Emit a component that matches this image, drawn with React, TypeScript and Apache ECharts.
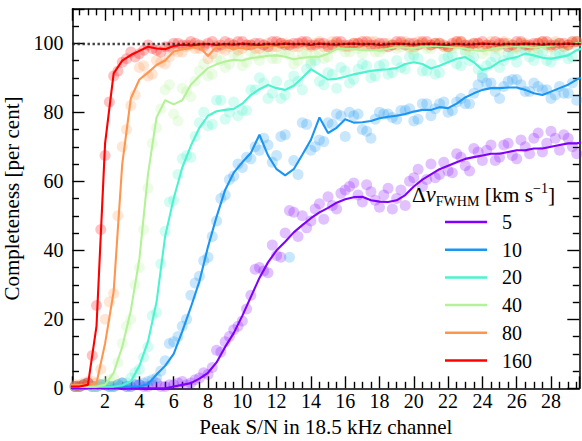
import React, { useEffect, useRef } from 'react';
import * as echarts from 'echarts';

const FONT = "'Liberation Serif', 'DejaVu Serif', serif";

// x grid of the smoothed curves and of the first set of points
const X_LINE = [0,0.5,1,1.5,2,2.5,3,3.5,4,4.5,5,5.5,6,6.5,7,7.5,8,8.5,9,9.5,10,10.5,11,11.5,12,12.5,13,13.5,14,14.5,15,15.5,16,16.5,17,17.5,18,18.5,19,19.5,20,20.5,21,21.5,22,22.5,23,23.5,24,24.5,25,25.5,26,26.5,27,27.5,28,28.5,29,29.5,30];
// x grid of the second set of points
const X_MID = [0.25,0.75,1.25,1.75,2.25,2.75,3.25,3.75,4.25,4.75,5.25,5.75,6.25,6.75,7.25,7.75,8.25,8.75,9.25,9.75,10.25,10.75,11.25,11.75,12.25,12.75,13.25,13.75,14.25,14.75,15.25,15.75,16.25,16.75,17.25,17.75,18.25,18.75,19.25,19.75,20.25,20.75,21.25,21.75,22.25,22.75,23.25,23.75,24.25,24.75,25.25,25.75,26.25,26.75,27.25,27.75,28.25,28.75,29.25,29.75];

const NAMES = ['5', '10', '20', '40', '80', '160'];
const COLORS = ['#8000ff', '#1a96f2', '#4df2ce', '#b3f296', '#ff964f', '#ff0000'];

// dv = 5
const L5 = [0,0,0,0,0,0,0,0,0,0,0,0,0.5,1,1.5,2.8,4.5,7.5,12,16,21,26.5,32,36.5,40,42.5,45.2,47.3,49.3,51,52.3,53.8,54.8,55.4,55.5,54.5,54.1,54,54.5,56,58.5,60.5,62,63.5,64.5,65.5,66.5,67,67.5,68,68,68.5,69,69,69.5,69.5,70,70.5,71,71,71.5];
const A5 = [1,0.5,1.5,0.5,1,0.5,1.5,0.5,1,0.5,1.5,0.5,1,2,1.5,3,4,11,13.5,17,19.5,27,35,33.5,38.5,45,51,50,48.5,53.5,55.5,52,57.5,59.5,54,57,52.5,58,55,53,61,58.5,65,62,63,68,64.5,69.5,66,70.5,67,71,66.5,70,72.5,68.5,74.5,69,72.5,68,73];
const B5 = [0.5,1,0.5,1,0.5,1,0.5,1,0.5,1,0.5,1,1.5,1,2.5,4.5,6,10.5,15,18,23,34.5,34,41.5,38,51.5,44,46.5,52,49,53,56.5,58.5,56,59,54.5,56,52,57.5,60,63.5,60.5,61,65.5,62.5,67,63,68.5,69,66,70.5,67.5,72,68,74,71,72.5,73.5,70,74];

// dv = 10
const L10 = [0.5,0.5,0.5,0.5,0.5,0.5,0.5,0.5,0.6,1.2,4,6.5,10,16.5,23.5,31,41,49.7,57.5,62.5,65.5,68.2,73.5,67.5,63.5,61.7,63.5,67.7,72,78.5,74,75.5,78,77,77.1,77.5,78.3,78.7,79,79.5,80.2,80.7,80.7,81.5,81.2,82.5,84.3,85.5,86.5,87,87,87.2,87.2,86.5,85.5,85,86,87,88,89.5,90.5];
const A10 = [1,0.5,1.5,0.5,1,0.5,1.5,0.5,1,2,3,8,13.5,18,27,32.5,38,48.5,56,61.5,64,66.5,69,70.5,67.5,73.5,66,77,69,72,77,79.5,73,79,75,72.5,80,79.5,78,80.5,77.5,82.5,79,82.5,80,83,82.5,85.5,90,88.5,84,89,89.5,86,88.5,86.5,84,87.5,85.5,83.5,92];
const B10 = [0.5,1,0.5,1,0.5,1,0.5,1,1.5,2.5,5,13,15,20,30.5,37,44,55,60.5,65,67,70,72.5,65.5,73,38,62,76.5,70,71.5,76.5,79,80,79.5,74.5,78,79.5,78.5,80.5,81,78,82.5,81,83,80.5,84,82.5,88,88.5,86,87.5,89.5,88,86,87.5,86.5,85,85.5,88.5,90.5];

// dv = 20
const L20 = [0.5,0.5,0.5,0.5,0.5,0.5,0.8,2,6.5,13.5,25,44,55,64,70.3,75.5,79,80.3,80.7,81,82.5,85,86.7,87.9,87,86.5,87.7,90,92.5,91,89.5,89.7,90.3,91,91.5,92,92.3,92.5,92.8,94,94.5,94,92.7,93.5,94.5,95.5,96,94.5,92.3,93,94.7,95.5,96,97,96.5,95.8,95.5,96,96.5,98,98.8];
const A20 = [1,0.5,1,0.5,1,0.5,1.5,3,5.5,12,22,45.5,54.5,66.5,67,77,76,83.5,78,83,80.5,86.5,90,84,89,85,90.5,86.5,94,89,91.5,87,92,89.5,94,90,93.5,91,95,92.5,96.5,92,94,91.5,96,94,97.5,96,91,94.5,93,97,94.5,98,95,97.5,94.5,97,95.5,99,98];
const B20 = [0.5,1,0.5,1,0.5,1,1.5,4.5,9,21,36,54,62,67.5,73,80,76.5,83.5,80,79,80.5,86.5,88.5,85.5,84,88,89,92.5,95,88,91,93,88.5,92.5,93.5,90.5,94,91.5,93,96,95.5,92,91,95.5,96.5,93.5,95,92.5,93.5,96,95,96.5,98,96,97,95,96.5,97.5,96,99.5];

// dv = 40
const L40 = [0.5,0.5,0.5,0.5,1,4.5,12,22.5,37.5,62,78.5,83.5,82.3,83.5,88,90.5,92.8,93.9,94.7,95.2,95,95.7,96,96.4,96.5,96.1,95.4,95.8,96,96.1,97,98.3,98.4,98.3,98,98,98,98.4,99,98.8,98.6,99,99.2,99.3,99,98.8,98.5,98,97.8,98.3,98.7,99,99.2,99,98.8,99,99.3,99.5,99.8,100,100];
const A40 = [1,0.5,1,0.5,1.5,3,13,20,35,58,75.5,86.5,79.5,87,84.5,92,90.5,95.5,93,97,93.5,97.5,95,98,95.5,97.5,94,97,95,97.5,96,99.5,97.5,99.5,97,99,97.5,99.5,98.5,100,98,100,98.5,100,98.5,99.5,98,99.5,97,99,98,100,98.5,99.5,98,100,98.5,100,99.5,100.5,99.5];
const B40 = [0.5,1,0.5,1,2.5,7.5,18,30,46,71,81,88,77.5,86,89,94,91,95,94,96.5,94.5,96.5,97,95.5,98,96.5,95,97.5,96.5,95.5,98.5,99,97.5,98.5,99,97.5,98.5,99.5,99,98.5,99.5,98.5,100,99,98.5,100,97.5,99,98,98.5,99.5,98.5,100,99,98.5,99.5,100,99,100.5,100];

// dv = 80
const L80 = [1,1,1,1.5,13,28,65,84,89.5,91.5,93.7,95,97.6,98.3,98.7,99,96.3,99,98.8,98.7,98.6,98.8,99,99.2,99.3,99.3,99.5,99.6,99.4,99.7,99.5,99.6,99.4,99.7,99.6,99.5,99.7,99.6,99.4,99.6,99.7,99.5,99.6,99.7,99.5,99.3,99.5,99.6,99.7,99.5,99.6,99.4,99.6,99.7,99.5,99.6,99.7,99.6,99.5,99.6,99.7];
const A80 = [1.5,1,2,1.5,20,27.5,70,82,93,90.5,95,94,98,97.5,99.5,98.5,95.5,99.5,98,99.5,98.5,99.5,98.5,100,99,100,99,100,99,100.5,99.5,100,99,100,99.5,100.5,99,100,99.5,100.5,99,100,99.5,100,99,100.5,99.5,100,99,100.5,99.5,100,99,100,99.5,100.5,99,100,99.5,100.5,99.5];
const B80 = [1,1.5,2,5.5,25,50,75,85,93.5,91,94.5,96,97.5,99,98.5,99.5,97,98.5,99,98,99.5,98.5,99.5,99,100,99.5,99,99.5,100,99,100.5,99.5,99,100,99.5,100.5,99,99.5,100,99,100.5,99.5,100,99,99.5,100.5,99,100,99.5,99,100.5,99.5,100,99,100,99.5,100.5,99,100,99.5];

// dv = 160
const L160 = [0.5,0.5,1,18,71,91.3,95,96.6,97.8,99,98.5,98.3,99.2,99.6,99.4,99.7,99.8,99.5,99.8,99.6,99.9,99.7,99.5,99.8,99.6,99.9,99.7,99.8,99.5,99.9,99.7,99.6,99.8,99.9,99.7,99.8,99.5,99.7,99.9,99.8,99.6,99.8,99.9,99.7,99.5,99.8,99.6,99.7,99.9,99.8,99.6,99.8,99.7,99.9,99.8,99.6,99.8,99.7,99.9,99.8,99.8];
const A160 = [1,0.5,1.5,24,67.5,90.5,94.5,97.5,97,99.5,98,99,100,99.5,100.5,99.5,100,99,100.5,99.5,100.5,99.5,100,99,100.5,99.5,100,100.5,99.5,100,99,100.5,99.5,100,100.5,99.5,100,99,100.5,99.5,100,100.5,99.5,100,99,100.5,99.5,100,100.5,99.5,100,99,100.5,99.5,100,100.5,99.5,100,99.5,100.5,100];
const B160 = [0.5,1,9.5,46,83,92,95.5,96,98,98.5,97.5,99,100,99.5,100,99,100.5,99.5,100,100.5,99.5,100,99.5,100.5,100,99.5,100,100.5,99.5,100,99.5,100.5,99.5,100,100.5,99.5,100,99.5,100.5,100,99.5,100.5,100,99.5,100,100.5,99.5,100,99.5,100.5,100,99.5,100.5,99.5,100,100.5,99.5,100,100.5,99.5];

const LINES = [L5, L10, L20, L40, L80, L160];
const PTS_A = [A5, A10, A20, A40, A80, A160];
const PTS_B = [B5, B10, B20, B40, B80, B160];

const X_MIN = 0.1;
const X_MAX = 29.65;
const Y_MIN = 0;
const Y_MAX = 110;

export default function App() {
  const ref = useRef<HTMLDivElement>(null);

  useEffect(() => {
    if (!ref.current) return;
    const chart = echarts.init(ref.current, null, { renderer: 'svg' });

    const tickLine = { color: '#000', width: 1.4 };
    const xCommon = {
      type: 'value',
      min: X_MIN,
      max: X_MAX,
      splitNumber: 15,
      minInterval: 2,
      maxInterval: 2,
      axisLine: { show: true, onZero: false, lineStyle: { color: '#000', width: 1.5 } },
      axisTick: { show: true, inside: true, length: 12, lineStyle: tickLine },
      minorTick: { show: true, splitNumber: 4, length: 6.5, lineStyle: tickLine },
      splitLine: { show: false },
      minorSplitLine: { show: false },
    };
    const yCommon = {
      type: 'value',
      min: Y_MIN,
      max: Y_MAX,
      interval: 20,
      axisLine: { show: true, onZero: false, lineStyle: { color: '#000', width: 1.5 } },
      axisTick: { show: true, inside: true, length: 12, lineStyle: tickLine },
      minorTick: { show: true, splitNumber: 4, length: 6.5, lineStyle: tickLine },
      splitLine: { show: false },
      minorSplitLine: { show: false },
    };

    const series: any[] = [];
    NAMES.forEach((name, k) => {
      const pts: number[][] = [];
      X_LINE.forEach((x, i) => pts.push([x, PTS_A[k][i]]));
      X_MID.forEach((x, i) => pts.push([x, PTS_B[k][i]]));
      const s: any = {
        name: name + ' pts',
        type: 'scatter',
        data: pts,
        symbol: 'circle',
        symbolSize: 11,
        itemStyle: { color: COLORS[k], opacity: 0.24 },
        z: 2,
        silent: true,
      };
      if (k === 0) {
        s.markLine = {
          silent: true,
          symbol: 'none',
          label: { show: false },
          lineStyle: { color: '#222', width: 2.4, type: [2.4, 2.6], opacity: 0.85 },
          data: [{ yAxis: 100 }],
        };
      }
      series.push(s);
    });
    NAMES.forEach((name, k) => {
      series.push({
        name,
        type: 'line',
        data: X_LINE.map((x, i) => [x, LINES[k][i]]),
        showSymbol: false,
        symbol: 'none',
        lineStyle: { color: COLORS[k], width: 2.1 },
        itemStyle: { color: COLORS[k] },
        z: 3,
        silent: true,
      });
    });

    const base = { fontFamily: FONT, color: '#000', fontWeight: 'normal' };

    const option: any = {
      animation: false,
      backgroundColor: '#fff',
      grid: { left: 72.5, right: 2.7, top: 8.8, bottom: 52.7, containLabel: false, outerBoundsMode: 'none' },
      title: {
        text: '{a|Δ}{b|v}{c|FWHM}{a| [km s}{d|−1}{a|]}',
        left: 412,
        top: 181,
        padding: 0,
        textStyle: {
          fontWeight: 'normal',
          rich: {
            a: { ...base, fontSize: 21.5, lineHeight: 27 },
            b: { ...base, fontSize: 22.5, fontStyle: 'italic', lineHeight: 27 },
            c: { ...base, fontSize: 14, lineHeight: 14, verticalAlign: 'bottom' },
            d: { ...base, fontSize: 14, lineHeight: 14, verticalAlign: 'top' },
          },
        },
      },
      legend: {
        data: NAMES,
        orient: 'vertical',
        left: 445,
        top: 212,
        itemWidth: 42,
        itemHeight: 2.5,
        itemGap: 7.7,
        icon: 'rect',
        padding: 0,
        selectedMode: false,
        formatter: (n: string) => '\u00a0\u00a0' + n,
        textStyle: { ...base, fontSize: 20 },
      },
      xAxis: [
        {
          ...xCommon,
          position: 'bottom',
          name: 'Peak S/N in 18.5 kHz channel',
          nameLocation: 'middle',
          nameGap: 27,
          nameTextStyle: { ...base, fontSize: 21 },
          axisLabel: { show: true, showMinLabel: false, showMaxLabel: false, margin: 3, ...base, fontSize: 20 },
        },
        {
          ...xCommon,
          position: 'top',
          axisLabel: { show: false },
        },
      ],
      yAxis: [
        {
          ...yCommon,
          position: 'left',
          name: 'Completeness [per cent]',
          nameLocation: 'middle',
          nameRotate: 90,
          nameGap: 43,
          nameTextStyle: { ...base, fontSize: 21 },
          axisLabel: { show: true, showMaxLabel: false, margin: 9, ...base, fontSize: 20 },
        },
        {
          ...yCommon,
          position: 'right',
          axisLabel: { show: false },
        },
      ],
      series,
    };

    chart.setOption(option);
    return () => chart.dispose();
  }, []);

  return (
    <div
      ref={ref}
      style={{ position: 'absolute', left: 0, top: 0, width: 582, height: 441, background: '#fff' }}
    />
  );
}
